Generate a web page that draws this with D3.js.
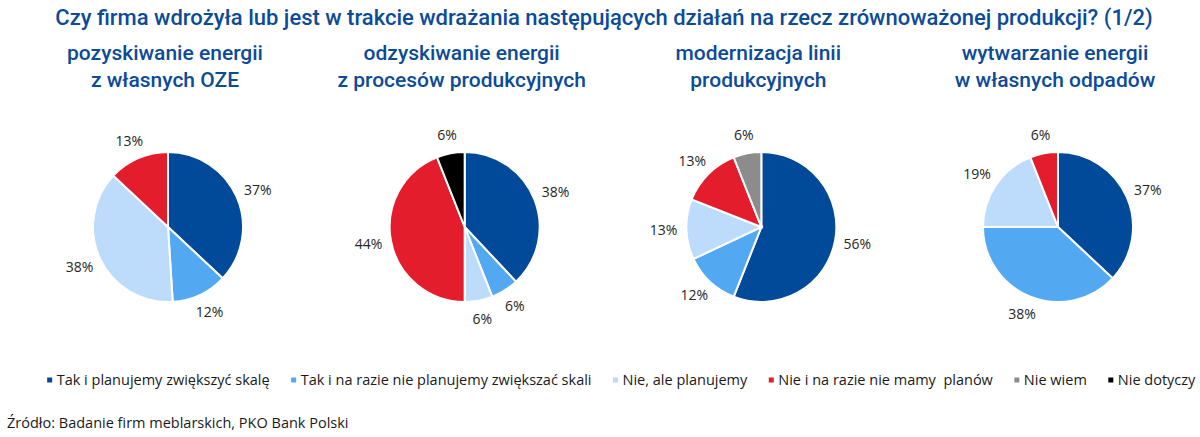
<!DOCTYPE html>
<html><head><meta charset="utf-8">
<script src="https://cdn.jsdelivr.net/npm/d3@7"></script>
<style>body{margin:0;background:#fff}svg text{white-space:pre}</style>
</head><body><svg id="c" width="1200" height="437"></svg>
<script>
// ---- data ----
const title = "Czy firma wdrożyła lub jest w trakcie wdrażania następujących działań na rzecz zrównoważonej produkcji? (1/2)";
const categories = ["Tak i planujemy zwiększyć skalę", "Tak i na razie nie planujemy zwiększać skali", "Nie, ale planujemy", "Nie i na razie nie mamy  planów", "Nie wiem", "Nie dotyczy"];
const pieTitles = [["pozyskiwanie energii", "z własnych OZE"], ["odzyskiwanie energii", "z procesów produkcyjnych"], ["modernizacja linii", "produkcyjnych"], ["wytwarzanie energii", "w własnych odpadów"]];
const ozeValues = [37, 12, 38, 13, 0, 0];
const odzyskValues = [38, 6, 6, 44, 0, 6];
const modernValues = [56, 12, 13, 13, 6, 0];
const odpadyValues = [37, 38, 19, 6, 0, 0];
const sourceText = "Źródło: Badanie firm meblarskich, PKO Bank Polski";
const colors = ["#004a99", "#52a9f2", "#bddcfb", "#e31d2c", "#8c8c8c", "#000000"];

const series = [ozeValues, odzyskValues, modernValues, odpadyValues];

// ---- layout ----
const svg = d3.select("#c");
const blue = "#0c4b98";
const font = "'Open Sans', sans-serif";
const headFont = "Roboto, 'Open Sans', sans-serif";

svg.append("text").attr("x", 604).attr("y", 25).attr("text-anchor", "middle")
  .attr("font-family", headFont).attr("font-weight", 500).attr("font-size", 22)
  .attr("fill", blue).text(title);

const x = d3.scalePoint().domain(d3.range(series.length)).range([168, 1058]);
const cy = 227, r = 75;
const color = d3.scaleOrdinal().domain(categories).range(colors);
const pie = d3.pie().sort(null).value(d => d.v);
const arc = d3.arc().innerRadius(0).outerRadius(r);

series.forEach((vals, i) => {
  const cx = x(i);
  const st = svg.append("text").attr("text-anchor", "middle")
    .attr("font-family", headFont).attr("font-weight", 500).attr("font-size", 21).attr("fill", blue);
  pieTitles[i].forEach((line, j) => {
    st.append("tspan").attr("x", cx - 3).attr("y", 60 + j * 27).text(line);
  });
  const g = svg.append("g").attr("transform", `translate(${cx},${cy})`);
  const data = pie(vals.map((v, k) => ({ v, c: categories[k] })));
  g.selectAll("path").data(data.filter(d => d.data.v > 0)).join("path")
    .attr("d", arc).attr("fill", d => color(d.data.c))
    .attr("stroke", "#fff").attr("stroke-width", 2).attr("stroke-linejoin", "miter");
  g.selectAll("text.lbl").data(data.filter(d => d.data.v > 0)).join("text")
    .attr("class", "lbl").attr("text-anchor", "middle").attr("dy", "0.35em")
    .attr("font-family", font).attr("font-size", 14).attr("fill", "#262626")
    .text(d => d.data.v + "%")
    .each(function (d) {
      const a = (d.startAngle + d.endAngle) / 2;
      const bb = this.getBBox();
      const s = Math.sin(a), c = -Math.cos(a);
      const px = s * (r + 9) + s * bb.width / 2;
      const py = c * (r + 9) + c * bb.height / 2;
      d3.select(this).attr("x", px).attr("y", py);
    });
});

// ---- legend ----
const leg = svg.append("g");
let lx = 0;
categories.forEach((c, k) => {
  const it = leg.append("g").attr("transform", `translate(${lx},0)`);
  it.append("rect").attr("x", -2.5).attr("y", -2.5).attr("width", 5).attr("height", 5).attr("fill", colors[k]);
  const t = it.append("text").attr("x", 7).attr("y", 0).attr("dy", "0.35em")
    .attr("font-family", font).attr("font-size", 14.5).attr("fill", "#1a1a1a").text(c);
  lx += 7 + t.node().getComputedTextLength() + 24;
});
const legW = lx - 24;
leg.attr("transform", `translate(${620 - legW / 2 + 2.5},380)`);

svg.append("text").attr("x", 7).attr("y", 428)
  .attr("font-family", font).attr("font-size", 14.5).attr("fill", "#1a1a1a").text(sourceText);
</script>
</body></html>
